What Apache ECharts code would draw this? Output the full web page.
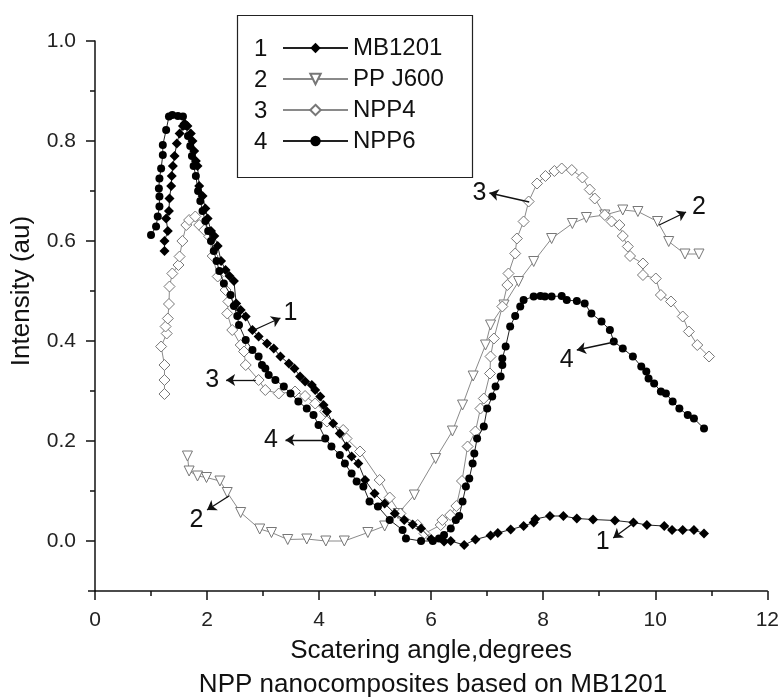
<!DOCTYPE html>
<html><head><meta charset="utf-8">
<script src="https://cdn.jsdelivr.net/npm/echarts@6/dist/echarts.min.js"></script>
<style>html,body{margin:0;padding:0;background:#fff}#c{width:782px;height:697px}</style>
</head><body><div id="c"></div>
<script>
const seriesNames = ['MB1201', 'PP J600', 'NPP4', 'NPP6'];
const seriesNumbers = ['1', '2', '3', '4'];
const xTicks = [0, 2, 4, 6, 8, 10, 12];
const yTicks = [0.0, 0.2, 0.4, 0.6, 0.8, 1.0];

const mb1201 = [[1.24,0.58],[1.24,0.60],[1.30,0.62],[1.27,0.645],[1.32,0.66],[1.33,0.685],[1.36,0.71],[1.37,0.73],[1.39,0.75],[1.42,0.77],[1.46,0.795],[1.51,0.815],[1.57,0.83],[1.60,0.835],[1.65,0.83],[1.71,0.815],[1.74,0.80],[1.77,0.78],[1.80,0.76],[1.83,0.75],[1.86,0.71],[1.92,0.69],[1.97,0.665],[2.01,0.645],[2.07,0.62],[2.13,0.61],[2.19,0.59],[2.25,0.56],[2.33,0.542],[2.40,0.53],[2.48,0.52],[2.52,0.475],[2.60,0.462],[2.69,0.449],[2.81,0.422],[2.92,0.409],[3.07,0.395],[3.19,0.385],[3.31,0.369],[3.46,0.355],[3.56,0.345],[3.66,0.329],[3.75,0.319],[3.87,0.312],[3.93,0.302],[4.02,0.289],[4.08,0.272],[4.14,0.259],[4.25,0.235],[4.37,0.215],[4.49,0.189],[4.58,0.169],[4.70,0.155],[4.82,0.122],[4.99,0.095],[5.17,0.075],[5.35,0.055],[5.52,0.042],[5.67,0.033],[5.82,0.025],[6.00,0.004],[6.23,-0.001],[6.35,0.0],[6.59,-0.008],[6.79,0.003],[7.06,0.011],[7.19,0.016],[7.42,0.023],[7.65,0.03],[7.83,0.037],[7.86,0.044],[8.12,0.05],[8.36,0.05],[8.60,0.045],[8.89,0.043],[9.28,0.041],[9.61,0.037],[9.85,0.032],[10.16,0.03],[10.30,0.022],[10.49,0.022],[10.69,0.022],[10.87,0.015]];

const ppj600 = [[1.65,0.17],[1.68,0.14],[1.83,0.13],[1.99,0.127],[2.23,0.12],[2.36,0.097],[2.60,0.057],[2.94,0.024],[3.15,0.017],[3.44,0.003],[3.78,0.004],[4.12,0.0],[4.45,0.0],[4.87,0.017],[5.17,0.03],[5.41,0.055],[5.70,0.092],[6.08,0.165],[6.38,0.22],[6.56,0.272],[6.75,0.33],[6.97,0.392],[7.06,0.432],[7.30,0.472],[7.56,0.519],[7.83,0.559],[8.15,0.605],[8.52,0.635],[8.77,0.647],[9.10,0.652],[9.42,0.662],[9.69,0.659],[10.04,0.639],[10.24,0.599],[10.53,0.574],[10.78,0.574]];

const npp4 = [[1.24,0.294],[1.24,0.322],[1.24,0.352],[1.18,0.389],[1.28,0.415],[1.26,0.429],[1.30,0.445],[1.32,0.474],[1.33,0.509],[1.38,0.535],[1.49,0.552],[1.51,0.569],[1.56,0.60],[1.63,0.632],[1.68,0.642],[1.79,0.649],[1.86,0.632],[1.95,0.622],[2.04,0.609],[2.10,0.57],[2.19,0.529],[2.33,0.502],[2.38,0.479],[2.36,0.455],[2.45,0.422],[2.60,0.392],[2.66,0.379],[2.69,0.352],[2.92,0.322],[3.04,0.302],[3.28,0.295],[3.57,0.299],[3.75,0.29],[3.93,0.275],[4.11,0.259],[4.14,0.239],[4.43,0.222],[4.49,0.205],[4.73,0.179],[5.08,0.122],[5.26,0.087],[5.45,0.055],[5.76,0.032],[5.88,0.015],[6.17,0.032],[6.20,0.042],[6.34,0.052],[6.45,0.07],[6.55,0.12],[6.65,0.189],[6.79,0.219],[6.88,0.265],[6.94,0.285],[7.05,0.335],[7.06,0.369],[7.12,0.405],[7.27,0.469],[7.36,0.512],[7.38,0.535],[7.50,0.575],[7.53,0.605],[7.65,0.639],[7.74,0.679],[7.89,0.715],[8.04,0.73],[8.20,0.74],[8.33,0.745],[8.51,0.742],[8.70,0.727],[8.83,0.703],[8.92,0.685],[9.10,0.652],[9.22,0.639],[9.36,0.632],[9.42,0.61],[9.51,0.589],[9.55,0.57],[9.78,0.555],[9.78,0.532],[10.01,0.525],[10.10,0.492],[10.28,0.479],[10.49,0.449],[10.60,0.419],[10.75,0.392],[10.96,0.369]];

const npp6 = [[1.00,0.612],[1.09,0.629],[1.12,0.649],[1.15,0.669],[1.15,0.689],[1.14,0.705],[1.15,0.725],[1.18,0.745],[1.21,0.772],[1.21,0.792],[1.27,0.822],[1.32,0.849],[1.38,0.852],[1.48,0.85],[1.57,0.849],[1.62,0.83],[1.66,0.81],[1.70,0.79],[1.73,0.77],[1.76,0.75],[1.80,0.73],[1.84,0.70],[1.88,0.68],[1.92,0.66],[1.97,0.64],[2.02,0.62],[2.07,0.60],[2.12,0.58],[2.17,0.56],[2.22,0.54],[2.30,0.515],[2.42,0.492],[2.48,0.47],[2.54,0.45],[2.57,0.432],[2.69,0.402],[2.81,0.382],[2.92,0.369],[2.98,0.352],[3.04,0.345],[3.10,0.332],[3.22,0.322],[3.37,0.309],[3.49,0.295],[3.63,0.279],[3.78,0.265],[3.90,0.252],[3.99,0.232],[4.11,0.205],[4.22,0.189],[4.37,0.172],[4.46,0.155],[4.58,0.135],[4.67,0.119],[4.79,0.109],[4.90,0.079],[5.05,0.069],[5.26,0.042],[5.49,0.022],[5.55,0.005],[5.82,0.0],[6.03,0.0],[6.14,0.005],[6.23,0.012],[6.35,0.025],[6.44,0.042],[6.50,0.05],[6.56,0.079],[6.62,0.109],[6.68,0.125],[6.74,0.155],[6.77,0.175],[6.82,0.205],[6.94,0.229],[7.00,0.265],[7.09,0.289],[7.15,0.309],[7.24,0.329],[7.27,0.352],[7.27,0.365],[7.33,0.389],[7.41,0.429],[7.50,0.45],[7.59,0.469],[7.65,0.482],[7.83,0.489],[7.95,0.49],[8.03,0.489],[8.15,0.489],[8.33,0.49],[8.42,0.482],[8.60,0.48],[8.74,0.475],[8.86,0.455],[9.04,0.439],[9.19,0.422],[9.26,0.399],[9.42,0.385],[9.60,0.369],[9.75,0.349],[9.84,0.339],[9.88,0.325],[9.98,0.315],[10.10,0.299],[10.19,0.295],[10.31,0.279],[10.43,0.265],[10.58,0.252],[10.69,0.245],[10.87,0.225]];

// annotations: label text, label position, arrow start, arrow end (data units)
const annLabels = ['1', '3', '4', '2', '1', '3', '2', '4'];
const annTextPos = [[3.49,0.456],[2.09,0.322],[3.14,0.202],[1.81,0.042],[9.06,-0.002],[6.86,0.696],[10.78,0.668],[8.42,0.362]];
const annFrom = [[2.84,0.422],[2.87,0.322],[4.11,0.202],[2.39,0.090],[9.61,0.036],[7.75,0.678],[10.07,0.632],[9.27,0.398]];
const annTo = [[3.31,0.446],[2.34,0.322],[3.40,0.202],[2.00,0.062],[9.25,0.006],[7.04,0.696],[10.55,0.658],[8.60,0.382]];

const FONT = 'Liberation Sans, Arial, Helvetica, sans-serif';
const chart = echarts.init(document.getElementById('c'), null, {renderer: 'canvas'});

const blackLine = {color: '#222', width: 1};
const greyLine = {color: '#8a8a8a', width: 1};

const annSeries = {
  type: 'line', name: '__ann', data: [], xAxisIndex: 0, yAxisIndex: 0, silent: true,
  markLine: {
    silent: true, symbol: ['none', 'arrow'], symbolSize: 9,
    lineStyle: {color: '#111', width: 1.3, type: 'solid'},
    label: {show: false}, animation: false,
    data: annFrom.map((f, i) => [{coord: f, symbol: 'none'}, {coord: annTo[i], symbol: 'arrow', symbolSize: 9}])
  },
  markPoint: {
    silent: true, symbol: 'circle', symbolSize: 0, animation: false,
    label: {show: true, position: 'inside', color: '#111', fontSize: 25, fontFamily: FONT, formatter: p => p.name},
    data: annTextPos.map((p, i) => ({coord: p, name: annLabels[i]}))
  }
};

const option = {
  animation: false,
  backgroundColor: '#fff',
  textStyle: {fontFamily: FONT},
  legend: {
    orient: 'vertical', left: 282, top: 36, padding: 0,
    itemWidth: 65, itemHeight: 13, itemGap: 7,
    data: seriesNames,
    textStyle: {fontSize: 24, color: '#111', fontFamily: FONT, lineHeight: 24}
  },
  graphic: [
    {type: 'rect', left: 235, top: 13, shape: {width: 235, height: 162}, style: {fill: 'none', stroke: '#222', lineWidth: 1.2}, z: 10},
    {type: 'line', shape: {x1: 88, y1: 591, x2: 96, y2: 591}, style: {stroke: '#111', lineWidth: 1.5}, z: 10},
    {type: 'text', x: 433, y: 685, z: 10,
     style: {text: 'NPP nanocomposites based on MB1201', fill: '#111', font: '26px ' + FONT, textAlign: 'center', textVerticalAlign: 'middle'}}
  ].concat(seriesNumbers.map((n, i) => ({
    type: 'text', left: 254, top: 37 + i * 31, z: 10,
    style: {text: n, fill: '#111', font: '24px ' + FONT}
  }))),
  grid: [
    {left: 95, right: 10, top: 41, bottom: 106},
    {left: 95, right: 10, top: 41, bottom: 156}
  ],
  xAxis: [
    {
      type: 'value', gridIndex: 0, min: 0, max: 12, interval: 2,
      name: 'Scatering angle,degrees', nameLocation: 'middle', nameGap: 47,
      nameTextStyle: {fontSize: 26, color: '#111', fontFamily: FONT},
      axisLine: {show: true, onZero: false, lineStyle: {color: '#111', width: 1.5}},
      axisTick: {show: true, length: 9, lineStyle: {color: '#111', width: 1.5}},
      minorTick: {show: true, splitNumber: 2, length: 5, lineStyle: {color: '#111', width: 1.5}},
      axisLabel: {fontSize: 21, color: '#222', margin: 19, fontFamily: FONT},
      splitLine: {show: false}
    },
    {type: 'value', gridIndex: 1, min: 0, max: 12, show: false}
  ],
  yAxis: [
    {
      type: 'value', gridIndex: 0, min: -0.1, max: 1.0,
      axisLine: {show: true, onZero: false, lineStyle: {color: '#111', width: 1.5}},
      axisTick: {show: false}, axisLabel: {show: false}, splitLine: {show: false}
    },
    {
      type: 'value', gridIndex: 1, min: 0, max: 1.0, interval: 0.2,
      name: 'Intensity (au)', nameLocation: 'middle', nameGap: 60,
      nameTextStyle: {fontSize: 26, color: '#111', fontFamily: FONT},
      axisLine: {show: false, onZero: false},
      axisTick: {show: true, length: 9, lineStyle: {color: '#111', width: 1.5}},
      minorTick: {show: true, splitNumber: 2, length: 5, lineStyle: {color: '#111', width: 1.5}},
      axisLabel: {fontSize: 21, color: '#222', margin: 19, fontFamily: FONT, formatter: v => v.toFixed(1)},
      splitLine: {show: false}
    }
  ],
  series: [
    {
      name: seriesNames[1], type: 'line', data: ppj600, symbol: 'triangle', symbolRotate: 180, symbolSize: 10,
      showAllSymbol: true, lineStyle: greyLine,
      itemStyle: {color: '#fff', borderColor: '#777', borderWidth: 1}, z: 2
    },
    {
      name: seriesNames[2], type: 'line', data: npp4, symbol: 'diamond', symbolSize: 11,
      showAllSymbol: true, lineStyle: greyLine,
      itemStyle: {color: '#fff', borderColor: '#777', borderWidth: 1}, z: 2
    },
    {
      name: seriesNames[0], type: 'line', data: mb1201, symbol: 'diamond', symbolSize: 10,
      showAllSymbol: true, lineStyle: blackLine,
      itemStyle: {color: '#000', borderColor: '#000', borderWidth: 0}, z: 3
    },
    {
      name: seriesNames[3], type: 'line', data: npp6, symbol: 'circle', symbolSize: 8,
      showAllSymbol: true, lineStyle: blackLine,
      itemStyle: {color: '#000', borderColor: '#000', borderWidth: 0}, z: 3
    },
    annSeries
  ]
};
chart.setOption(option);
</script></body></html>
